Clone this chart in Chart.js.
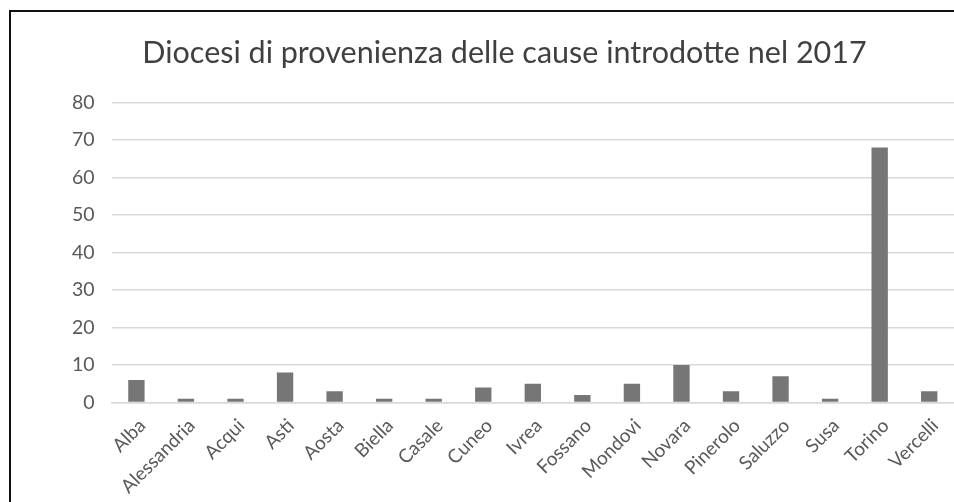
<!DOCTYPE html>
<html>
<head>
<meta charset="utf-8">
<script src="https://cdn.jsdelivr.net/npm/chart.js@4"></script>
<style>
  html, body { margin: 0; padding: 0; background: #fff; overflow: hidden; }
  #frame {
    position: absolute; left: 9px; top: 10px;
    width: 945px; height: 492px;
    border-left: 2px solid #111; border-top: 2px solid #111;
  }
  #wrap { position: relative; width: 943px; height: 490px; }
</style>
</head>
<body>
<div id="frame"><div id="wrap"><canvas id="chart"></canvas></div></div>
<script>
   // Data
   const categories = ["Alba", "Alessandria", "Acqui", "Asti", "Aosta", "Biella", "Casale", "Cuneo",
                       "Ivrea", "Fossano", "Mondovi", "Novara", "Pinerolo", "Saluzzo", "Susa", "Torino", "Vercelli"];
   const cause = [6, 1, 1, 8, 3, 1, 1, 4, 5, 2, 5, 10, 3, 7, 1, 68, 3];
   const yTicks = [0, 10, 20, 30, 40, 50, 60, 70, 80];

   const textColor = "#595959";
   const barColor  = "#767676";
   const gridColor = "#d9d9d9";

   new Chart(document.getElementById("chart"), {
      type: "bar",
      data: {
         labels: categories,
         datasets: [{
            label: "Cause",
            data: cause,
            backgroundColor: barColor,
            borderWidth: 0,
            barPercentage: 0.33,
            categoryPercentage: 1
         }]
      },
      options: {
         responsive: true,
         maintainAspectRatio: false,
         animation: false,
         layout: { padding: { left: 44, right: 0, top: 0, bottom: 0 } },
         plugins: {
            legend: { display: false },
            tooltip: { enabled: false },
            title: {
               display: true,
               text: "Diocesi di provenienza delle cause introdotte nel 2017",
               color: "#404040",
               font: { family: "Lato", size: 30.5, weight: "normal" },
               padding: { top: 23, bottom: 31 }
            }
         },
         scales: {
            y: {
               min: 0,
               max: 80,
               afterBuildTicks: axis => { axis.ticks = yTicks.map(v => ({ value: v })); },
               border: { display: false },
               grid: { color: gridColor, lineWidth: 1.5, drawTicks: false },
               ticks: {
                  color: textColor,
                  padding: 17,
                  font: { family: "Lato", size: 19.5 }
               }
            },
            x: {
               border: { display: true, color: gridColor, width: 1.5 },
               grid: { display: false },
               ticks: {
                  color: textColor,
                  font: { family: "Lato", size: 19 },
                  maxRotation: 45,
                  minRotation: 45,
                  autoSkip: false,
                  labelOffset: 6,
                  padding: 4
               }
            }
         }
      }
   });
</script>
</body>
</html>
